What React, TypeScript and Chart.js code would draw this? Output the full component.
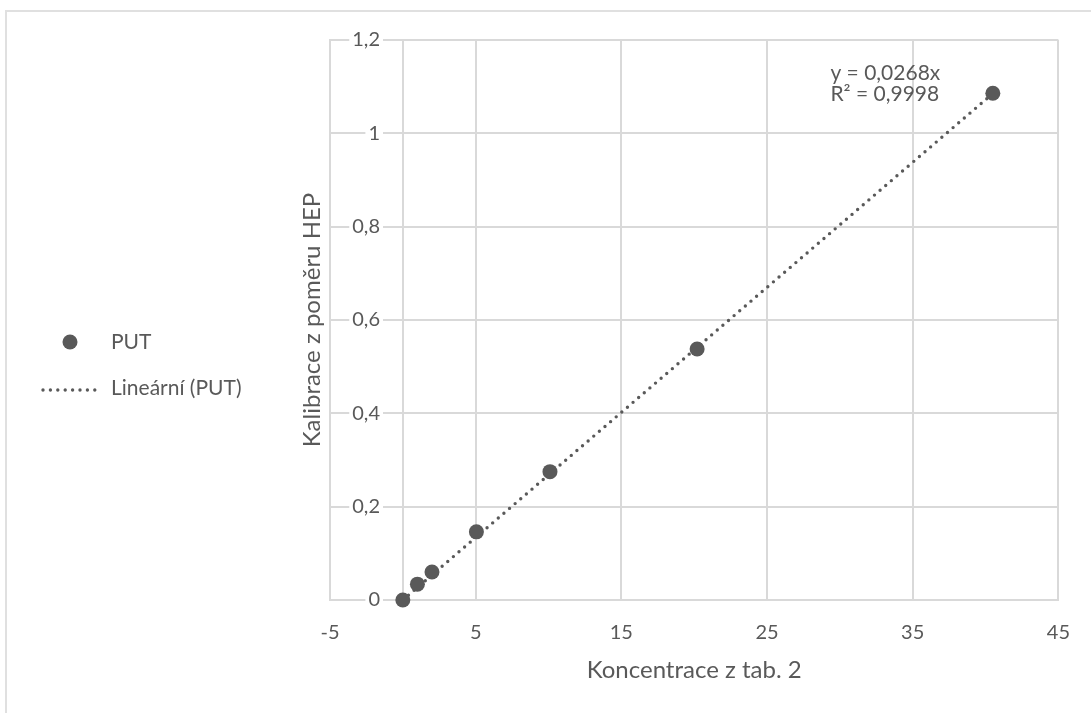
import { useEffect, useRef } from 'react';
import { Chart, registerables } from 'chart.js';

Chart.register(...registerables);

// ---- data ----
const concentrations = [0, 1, 2, 5.05, 10.1, 20.2, 40.5];
const calibration = [0, 0.034, 0.06, 0.146, 0.275, 0.538, 1.086];
const trendSlope = 0.0268;
const xTickValues = [-5, 5, 15, 25, 35, 45];
const xTickLabels = ['-5', '5', '15', '25', '35', '45'];
const yTickValues = [0, 0.2, 0.4, 0.6, 0.8, 1, 1.2];
const yTickLabels = ['0', '0,2', '0,4', '0,6', '0,8', '1', '1,2'];
const seriesName = 'PUT';
const trendName = 'Lineární (PUT)';
const equationLines = ['y = 0,0268x', 'R² = 0,9998'];
const xTitle = 'Koncentrace z tab. 2';
const yTitle = 'Kalibrace z poměru HEP';

const FONT = 'Lato, "Open Sans", sans-serif';
const TEXT = '#595959';
const GRID = '#d9d9d9';
const MARK = '#595959';

const excelPlugin = {
  id: 'excelLook',
  beforeDatasetsDraw(chart: any) {
    const { ctx, chartArea, scales } = chart;
    const xs = scales.x;
    const ys = scales.y;
    const x0 = Math.round(xs.getPixelForValue(0));
    ctx.save();
    ctx.strokeStyle = GRID;
    ctx.lineWidth = 2;
    ctx.beginPath();
    ctx.moveTo(x0, chartArea.top);
    ctx.lineTo(x0, chartArea.bottom);
    ctx.stroke();
    ctx.font = `20px ${FONT}`;
    ctx.textAlign = 'right';
    ctx.textBaseline = 'middle';
    yTickValues.forEach((v, i) => {
      const y = ys.getPixelForValue(v);
      const label = yTickLabels[i];
      const w = ctx.measureText(label).width;
      const right = x0 - 23;
      ctx.fillStyle = '#ffffff';
      ctx.fillRect(right - w - 3, y - 3, w + 6, 6);
      ctx.fillStyle = TEXT;
      ctx.fillText(label, right, y);
    });
    ctx.restore();
  },
  afterDraw(chart: any) {
    const { ctx, chartArea } = chart;
    ctx.save();
    // legend
    ctx.fillStyle = MARK;
    ctx.beginPath();
    ctx.arc(70, 342, 7.5, 0, Math.PI * 2);
    ctx.fill();
    ctx.strokeStyle = MARK;
    ctx.lineWidth = 3.4;
    ctx.lineCap = 'round';
    ctx.setLineDash([0, 7.4]);
    ctx.beginPath();
    ctx.moveTo(43, 390);
    ctx.lineTo(102, 390);
    ctx.stroke();
    ctx.setLineDash([]);
    ctx.font = `21px ${FONT}`;
    ctx.fillStyle = TEXT;
    ctx.textAlign = 'left';
    ctx.textBaseline = 'middle';
    ctx.fillText(seriesName, 111, 342);
    ctx.fillText(trendName, 111, 388);
    // trendline equation
    const ex = chartArea.right - 228;
    ctx.fillText(equationLines[0], ex, chartArea.top + 33);
    ctx.fillText(equationLines[1], ex, chartArea.top + 54);
    ctx.restore();
  },
};

export default function App() {
  const canvasRef = useRef<HTMLCanvasElement | null>(null);

  useEffect(() => {
    const canvas = canvasRef.current;
    if (!canvas) return;
    const xMax = Math.max(...concentrations);
    const chart = new Chart(canvas, {
      type: 'scatter',
      data: {
        datasets: [
          {
            label: seriesName,
            data: concentrations.map((x, i) => ({ x, y: calibration[i] })),
            backgroundColor: MARK,
            borderColor: MARK,
            borderWidth: 0,
            pointRadius: 7.5,
            pointHoverRadius: 7.5,
            showLine: false,
            clip: false,
          } as any,
          {
            type: 'line',
            label: trendName,
            data: [
              { x: 0, y: 0 },
              { x: xMax, y: trendSlope * xMax },
            ],
            borderColor: MARK,
            borderWidth: 3.4,
            borderDash: [0, 7.4],
            borderCapStyle: 'round',
            pointRadius: 0,
            fill: false,
            tension: 0,
            clip: false,
          } as any,
        ],
      },
      options: {
        responsive: false,
        animation: false,
        events: [],
        layout: { padding: { left: 0, top: 40, right: 31, bottom: 0 } },
        plugins: { legend: { display: false }, tooltip: { enabled: false } },
        scales: {
          x: {
            type: 'linear',
            min: -5,
            max: 45,
            afterBuildTicks: (s: any) => {
              s.ticks = xTickValues.map((v) => ({ value: v }));
            },
            afterFit: (s: any) => {
              s.height = 113;
            },
            ticks: {
              callback: (v: any) => {
                const i = xTickValues.indexOf(Number(v));
                return i >= 0 ? xTickLabels[i] : '';
              },
              font: { family: FONT, size: 20 },
              color: TEXT,
              padding: 21,
              maxRotation: 0,
              autoSkip: false,
            },
            grid: { color: GRID, lineWidth: 2, drawTicks: false },
            border: { color: GRID, width: 2 },
            title: {
              display: true,
              text: xTitle,
              font: { family: FONT, size: 24 },
              color: TEXT,
              padding: { top: 0, bottom: 28 },
            },
          },
          y: {
            type: 'linear',
            min: 0,
            max: 1.2,
            afterBuildTicks: (s: any) => {
              s.ticks = yTickValues.map((v) => ({ value: v }));
            },
            afterFit: (s: any) => {
              s.width = 330;
            },
            ticks: { display: false },
            grid: { color: GRID, lineWidth: 2, drawTicks: false },
            border: { color: GRID, width: 2 },
            title: {
              display: true,
              text: yTitle,
              font: { family: FONT, size: 24 },
              color: TEXT,
              padding: { top: 297.5, bottom: 0 },
            },
          },
        },
      } as any,
      plugins: [excelPlugin],
    });
    return () => chart.destroy();
  }, []);

  return (
    <div
      style={{
        position: 'fixed',
        left: 0,
        top: 0,
        width: 1091,
        height: 713,
        overflow: 'hidden',
        background: '#ffffff',
      }}
    >
      <div
        style={{
          position: 'absolute',
          left: 5,
          top: 10,
          width: 1300,
          height: 900,
          border: '2px solid #e0e0e0',
          boxSizing: 'border-box',
        }}
      />
      <canvas
        ref={canvasRef}
        width={1091}
        height={713}
        style={{ position: 'absolute', left: 0, top: 0, width: 1091, height: 713 }}
      />
    </div>
  );
}
